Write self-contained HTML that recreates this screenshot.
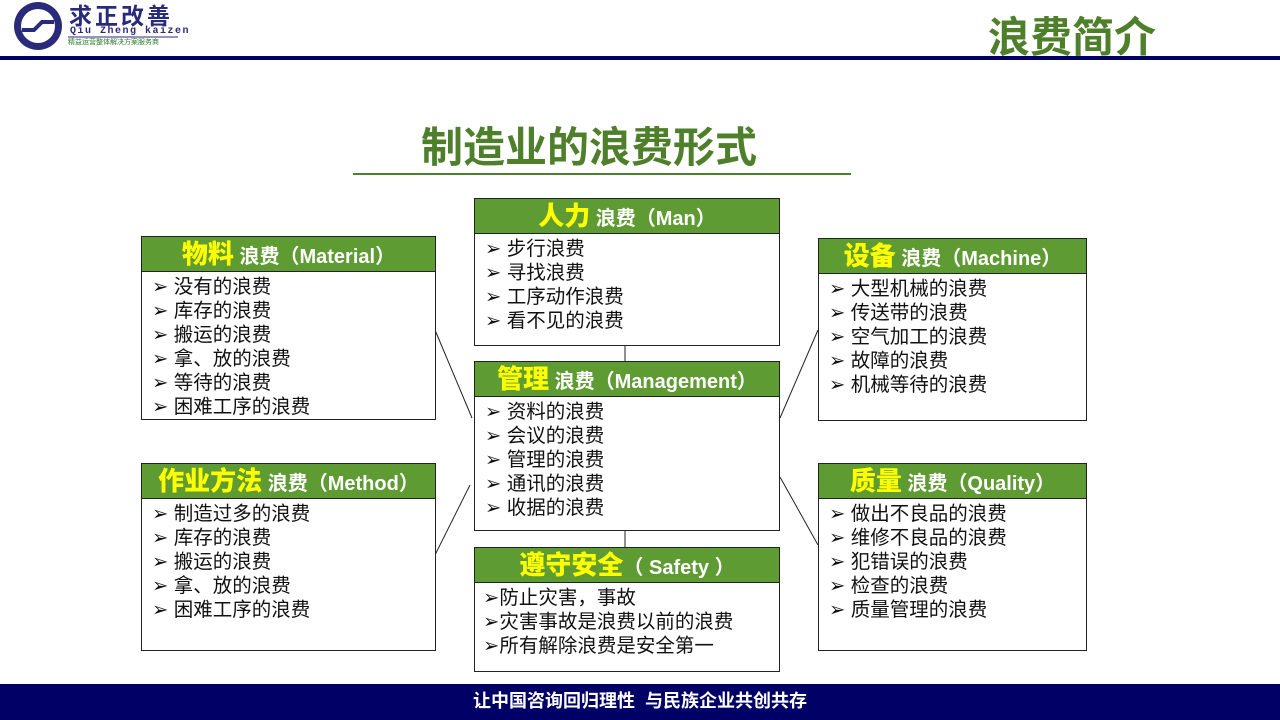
<!DOCTYPE html>
<html><head><meta charset="utf-8"><style>
*{margin:0;padding:0;box-sizing:border-box}
body{width:1280px;height:720px;position:relative;background:#fff;font-family:"Liberation Sans","Noto Sans CJK SC",sans-serif;overflow:hidden}
.a{position:absolute;white-space:nowrap}
.box{position:absolute;border:1.5px solid #222;background:#fff}
.hd{height:35px;background:#5f9b33;border-bottom:1.5px solid #222;color:#fff;font-weight:bold;font-size:20px;text-align:center;line-height:35px;white-space:nowrap}
.hd b{color:#ffff00;font-size:26px}
.bd{padding:3px 0 0 10px;font-size:19.5px;line-height:24px;color:#111;white-space:nowrap}
</style></head><body>
<svg class="a" style="left:0;top:0" width="1280" height="720">
<circle cx="38" cy="26" r="24" fill="#2a2a7a"/>
<circle cx="38" cy="26" r="17" fill="#fff"/>
<path d="M22 30 L34 30 L42 22 L54 22" stroke="#2a2a7a" stroke-width="4" fill="none"/>
<line x1="68" y1="37" x2="178" y2="37" stroke="#2a2a7a" stroke-width="1"/>
<rect x="0" y="56" width="1280" height="4" fill="#000066"/>
<rect x="0" y="684" width="1280" height="36" fill="#000066"/>
<line x1="353" y1="174" x2="851" y2="174" stroke="#4e7f2a" stroke-width="2"/>
<g stroke="#222" stroke-width="1">
<line x1="435" y1="330" x2="472" y2="418"/>
<line x1="435" y1="555" x2="470" y2="485"/>
<line x1="780" y1="418" x2="818" y2="330"/>
<line x1="780" y1="477" x2="818" y2="545"/>
<line x1="625" y1="345" x2="625" y2="361"/>
<line x1="625" y1="530" x2="625" y2="547"/>
</g>
</svg>
<div class="a" style="left:69px;top:3px;font-size:23px;line-height:26px;font-weight:bold;color:#2a2a7a;letter-spacing:3px">求正改善</div>
<div class="a" style="left:70px;top:27px;font-size:10px;line-height:10px;font-weight:bold;color:#2a2a7a;letter-spacing:1.5px;font-family:'Liberation Mono',monospace">Qiu Zheng kaizen</div>
<div class="a" style="left:68px;top:39px;font-size:7px;line-height:8px;color:#2a7a2a">精益运营整体解决方案服务商</div>
<div class="a" style="left:988px;top:4px;font-size:42px;font-weight:bold;color:#4e7f2a">浪费简介</div>
<div class="a" style="left:421px;top:114px;font-size:42px;font-weight:bold;color:#4e7f2a">制造业的浪费形式</div>

<div class="box" style="left:141px;top:236px;width:295px;height:184px"><div class="hd"><b>物料</b> 浪费（Material）</div><div class="bd">➢ 没有的浪费<br>➢ 库存的浪费<br>➢ 搬运的浪费<br>➢ 拿、放的浪费<br>➢ 等待的浪费<br>➢ 困难工序的浪费</div></div>
<div class="box" style="left:474px;top:198px;width:306px;height:148px"><div class="hd"><b>人力</b> 浪费（Man）</div><div class="bd">➢ 步行浪费<br>➢ 寻找浪费<br>➢ 工序动作浪费<br>➢ 看不见的浪费</div></div>
<div class="box" style="left:818px;top:238px;width:269px;height:183px"><div class="hd"><b>设备</b> 浪费（Machine）</div><div class="bd">➢ 大型机械的浪费<br>➢ 传送带的浪费<br>➢ 空气加工的浪费<br>➢ 故障的浪费<br>➢ 机械等待的浪费</div></div>
<div class="box" style="left:474px;top:361px;width:306px;height:170px"><div class="hd"><b>管理</b> 浪费（Management）</div><div class="bd">➢ 资料的浪费<br>➢ 会议的浪费<br>➢ 管理的浪费<br>➢ 通讯的浪费<br>➢ 收据的浪费</div></div>
<div class="box" style="left:141px;top:463px;width:295px;height:188px"><div class="hd"><b>作业方法</b> 浪费（Method）</div><div class="bd">➢ 制造过多的浪费<br>➢ 库存的浪费<br>➢ 搬运的浪费<br>➢ 拿、放的浪费<br>➢ 困难工序的浪费</div></div>
<div class="box" style="left:818px;top:463px;width:269px;height:188px"><div class="hd"><b>质量</b> 浪费（Quality）</div><div class="bd">➢ 做出不良品的浪费<br>➢ 维修不良品的浪费<br>➢ 犯错误的浪费<br>➢ 检查的浪费<br>➢ 质量管理的浪费</div></div>
<div class="box" style="left:474px;top:547px;width:306px;height:125px"><div class="hd"><b>遵守安全</b>（ Safety ）</div><div class="bd" style="padding-left:8px">➢防止灾害，事故<br>➢灾害事故是浪费以前的浪费<br>➢所有解除浪费是安全第一</div></div>

<div class="a" style="left:0;top:684px;width:1280px;height:36px;line-height:34px;text-align:center;color:#fff;font-size:18px;font-weight:bold">让中国咨询回归理性&nbsp; 与民族企业共创共存</div>
</body></html>
